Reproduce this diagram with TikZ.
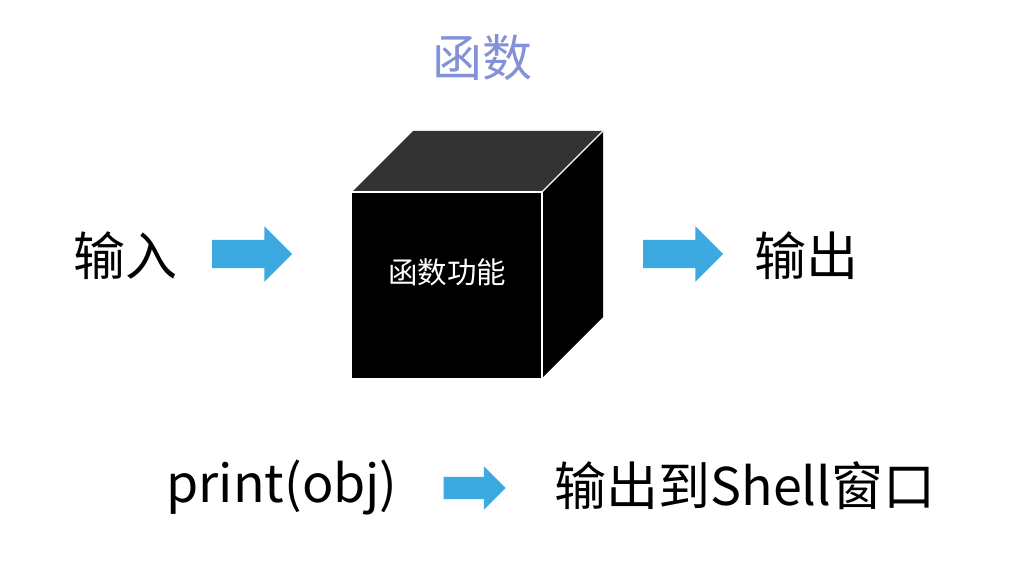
\documentclass[tikz,border=0pt]{standalone}
\usepackage{fontspec}
\setmainfont{Noto Sans CJK SC}
\usepackage{xcolor}
\usepackage{tikz}
\usetikzlibrary{
	arrows.meta,
	positioning,
	calc,
	shapes.arrows
}
\definecolor{arrowblue}{HTML}{3CA9E0}
\definecolor{titleblue}{HTML}{8291D8}
\definecolor{cubetop}{HTML}{333333}
\tikzset{
	bigtext/.style={inner sep=0pt,font=\fontsize{52}{60}\selectfont},
	blockarrow/.style={single arrow,fill=arrowblue,draw=none,inner xsep=0pt,
		inner ysep=14pt,minimum height=80pt,minimum width=55pt,
		single arrow head extend=13.5pt,anchor=center}
}

\begin{document}
\begin{tikzpicture}[x=1pt,y=-1pt]
				
				\useasboundingbox (0,0) rectangle (1012,564);
				
				% Title
				\node[inner sep=0pt,text=titleblue,font=\fontsize{50}{58}\selectfont] (title) at (482,58) {函数};
				
				% Cube
				\fill[cubetop] (352,192) -- (413,131) -- (603,131) -- (542,192) -- cycle;
				\fill[black] (542,192) -- (603,131) -- (603,317) -- (542,378) -- cycle;
				\fill[black] (352,192) rectangle (542,378);
				\draw[white,line width=1.2pt] (352,192) -- (542,192) -- (542,378);
				\draw[white,line width=1.2pt] (542,192) -- (603,131);
				\node[inner sep=0pt,text=white,font=\fontsize{29.5}{34}\selectfont] (func) at (447,272) {函数功能};
				
				% Input and output
				\node[bigtext] (in) at (125,256) {输入};
				\node[bigtext] (out) at (806,256) {输出};
				\node[blockarrow] (a1) at (245,254) {};
				\node[blockarrow] (a2) at (676,254) {};
				
				% print
				\node[bigtext] (print) at (282,488) {print(obj)};
				\node[blockarrow,inner ysep=11pt,minimum height=62pt,minimum width=43pt,
					single arrow head extend=10.5pt] (a3) at (469,488) {};
				\node[bigtext] (shell) at (745,486) {输出到Shell窗口};
				
			\end{tikzpicture}
\end{document}
